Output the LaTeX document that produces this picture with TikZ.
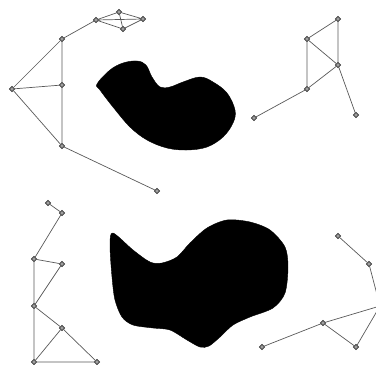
\documentclass[tikz,border=0pt]{standalone}
\usetikzlibrary{shapes.geometric}
\begin{document}
\begin{tikzpicture}[x=1pt,y=-1pt,
  vtx/.style={diamond,draw=black!80,fill=gray!75,line width=0.6pt,minimum size=5.5pt,inner sep=0pt},
  edge/.style={draw=gray!70!black,line width=0.7pt},
  blob/.style={fill=black,draw=black}]
\useasboundingbox (0,0) rectangle (376,365);
\clip (0,0) rectangle (376,365);
% blobs
\path[blob] plot[smooth cycle,tension=0.6] coordinates {
 (97,84) (110,70) (123,63) (137,61) (146,65) (152,77) (160,87) (170,87)
 (183,82) (200,77) (213,82) (227,93) (235,110) (233,123) (223,137) (207,147)
 (187,150) (167,148) (147,140) (130,127) (113,107) (100,90)};
\path[blob] plot[smooth cycle,tension=0.5] coordinates {
 (113,233) (133,250) (150,262) (162,263) (177,257) (190,243) (207,228)
 (227,220) (250,222) (270,230) (285,247) (288,267) (285,293) (273,308)
 (250,317) (233,325) (220,337) (209,346) (200,347) (187,340) (170,330)
 (153,328) (133,325) (122,317) (115,300) (112,277) (110,245)};
% top-left graph
\node[vtx] (a) at (96,20) {};
\node[vtx] (b) at (119,12) {};
\node[vtx] (c) at (143,19) {};
\node[vtx] (d) at (123,29) {};
\node[vtx] (e) at (62,39) {};
\node[vtx] (f) at (12,89) {};
\node[vtx] (g) at (62,85) {};
\node[vtx] (h) at (62,146) {};
\node[vtx] (i) at (157,191) {};
\path[edge] (a)--(b) (a)--(c) (a)--(d) (b)--(d) (b)--(c) (c)--(d)
  (e)--(a) (e)--(f) (e)--(g) (g)--(h) (f)--(g) (f)--(h) (h)--(i);
% top-right graph
\node[vtx] (j) at (338,19) {};
\node[vtx] (k) at (307,39) {};
\node[vtx] (l) at (338,65) {};
\node[vtx] (m) at (307,89) {};
\node[vtx] (n) at (254,118) {};
\node[vtx] (o) at (356,115) {};
\path[edge] (j)--(k) (j)--(l) (k)--(l) (k)--(m) (l)--(m) (m)--(n) (l)--(o);
% bottom-left graph
\node[vtx] (p) at (48,203) {};
\node[vtx] (q) at (62,213) {};
\node[vtx] (r) at (34,259) {};
\node[vtx] (s) at (62,264) {};
\node[vtx] (t) at (34,306) {};
\node[vtx] (u) at (62,328) {};
\node[vtx] (v) at (34,362) {};
\node[vtx] (w) at (97,362) {};
\path[edge] (p)--(q) (q)--(r) (r)--(s) (s)--(t) (r)--(t) (t)--(v)
  (t)--(u) (u)--(v) (u)--(w) (v)--(w);
% bottom-right graph
\node[vtx] (x) at (338,236) {};
\node[vtx] (y) at (369,264) {};
\node[vtx] (z) at (380,306) {};
\node[vtx] (aa) at (323,323) {};
\node[vtx] (bb) at (262,347) {};
\node[vtx] (cc) at (356,347) {};
\path[edge] (x)--(y) (y)--(z) (z)--(aa) (aa)--(bb) (aa)--(cc) (cc)--(z);
\end{tikzpicture}
\end{document}
